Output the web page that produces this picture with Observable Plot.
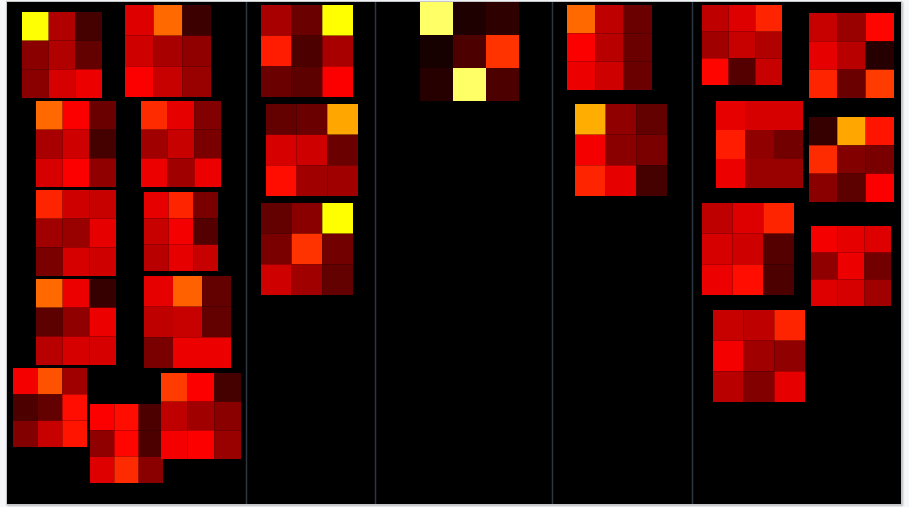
<!DOCTYPE html>
<html><head><meta charset="utf-8">
<script src="https://cdn.jsdelivr.net/npm/d3@7"></script>
<script src="https://cdn.jsdelivr.net/npm/@observablehq/plot@0.6"></script>
<style>
html,body{margin:0;padding:0;background:#f6f7f9;}
#wrap{position:absolute;left:6px;top:1px;width:894px;height:502px;border:1px solid #c4c6c9;box-shadow:1px 1px 2px rgba(0,0,0,0.25);background:#000;}
#wrap svg{display:block;}
</style></head><body><div id="wrap"></div>
<script>
// 24 blocks of 3x3 cells (row-major), values on a 0..1 "hot" scale
const blockNames = ["A","B","C","D","E","F","G","H","I","J","K","L","M","N","O","P","Q","R","S","T","U","V","W","X"];
const blockValues = [
  [0.67,0.23,0.09, 0.18,0.23,0.13, 0.18,0.28,0.31],
  [0.29,0.47,0.08, 0.27,0.22,0.19, 0.33,0.26,0.20],
  [0.47,0.33,0.14, 0.22,0.27,0.09, 0.28,0.33,0.19],
  [0.39,0.30,0.17, 0.21,0.26,0.16, 0.31,0.21,0.31],
  [0.38,0.27,0.26, 0.21,0.20,0.30, 0.16,0.28,0.27],
  [0.30,0.38,0.16, 0.26,0.32,0.11, 0.24,0.30,0.26],
  [0.47,0.31,0.07, 0.12,0.19,0.31, 0.24,0.28,0.28],
  [0.30,0.46,0.13, 0.25,0.26,0.13, 0.16,0.31,0.31],
  [0.32,0.44,0.21, 0.10,0.13,0.35, 0.17,0.26,0.36],
  [0.33,0.35,0.10, 0.19,0.34,0.10, 0.29,0.39,0.18],
  [0.41,0.33,0.09, 0.25,0.21,0.18, 0.32,0.33,0.20],
  [0.22,0.14,0.667, 0.37,0.10,0.22, 0.14,0.12,0.33],
  [0.13,0.14,0.55, 0.28,0.27,0.14, 0.35,0.21,0.21],
  [0.13,0.18,0.667, 0.16,0.40,0.15, 0.27,0.21,0.13],
  [0.80,0.04,0.06, 0.03,0.10,0.40, 0.05,0.80,0.10],
  [0.47,0.25,0.14, 0.33,0.24,0.14, 0.31,0.27,0.14],
  [0.56,0.19,0.13, 0.32,0.18,0.16, 0.38,0.30,0.09],
  [0.25,0.29,0.38, 0.21,0.26,0.23, 0.34,0.11,0.26],
  [0.26,0.20,0.34, 0.30,0.24,0.05, 0.38,0.14,0.41],
  [0.30,0.28,0.28, 0.37,0.19,0.15, 0.31,0.20,0.20],
  [0.07,0.55,0.36, 0.39,0.17,0.16, 0.18,0.12,0.33],
  [0.25,0.29,0.38, 0.28,0.27,0.11, 0.31,0.35,0.10],
  [0.32,0.30,0.29, 0.19,0.31,0.15, 0.29,0.28,0.21],
  [0.26,0.25,0.38, 0.32,0.21,0.19, 0.24,0.17,0.30]
];
// block placement (layout, in scale units of the canvas)
const blockLeft   = [15,118,29,134,29,137,29,137,6,83,154, 254,259,254, 413, 560,568, 695,802,709,802,695,804,706];
const blockTop    = [10,3,99,99,188,190,277,274,366,402,371, 3,102,201, 0, 3,102, 3,11,99,115,201,224,308];
const blockWidth  = [80,86,80,80,80,74,80,87,74,73,80, 92,92,92, 99, 85,92, 80,85,87,85,92,80,92];
const blockHeight = [86,92,86,86,86,79,86,92,79,79,86, 92,92,92, 99, 85,92, 80,85,87,85,92,80,92];
// group separators
const groupBounds = [239, 368, 545, 685];

const cells = [];
blockValues.forEach((vals, b) => {
  const cw = blockWidth[b] / 3, ch = blockHeight[b] / 3;
  vals.forEach((v, i) => {
    const r = Math.floor(i / 3), c = i % 3;
    cells.push({
      block: blockNames[b],
      x1: blockLeft[b] + c * cw, x2: blockLeft[b] + (c + 1) * cw,
      y1: blockTop[b] + r * ch, y2: blockTop[b] + (r + 1) * ch,
      value: v
    });
  });
});

const chart = Plot.plot({
  width: 894, height: 502, margin: 0,
  style: {background: "#000", overflow: "hidden"},
  x: {domain: [0, 894], range: [0, 894], axis: null},
  y: {domain: [0, 502], range: [0, 502], axis: null},
  color: {type: "linear", domain: [0, 1/3, 2/3, 1], range: ["#000000", "#ff0000", "#ffff00", "#ffffff"], clamp: true},
  marks: [
    Plot.ruleX(groupBounds, {stroke: "#2c3742", strokeWidth: 1.5}),
    Plot.rect(cells, {x1: "x1", x2: "x2", y1: "y1", y2: "y2", fill: "value"})
  ]
});
document.getElementById("wrap").appendChild(chart);
</script>
</body></html>
